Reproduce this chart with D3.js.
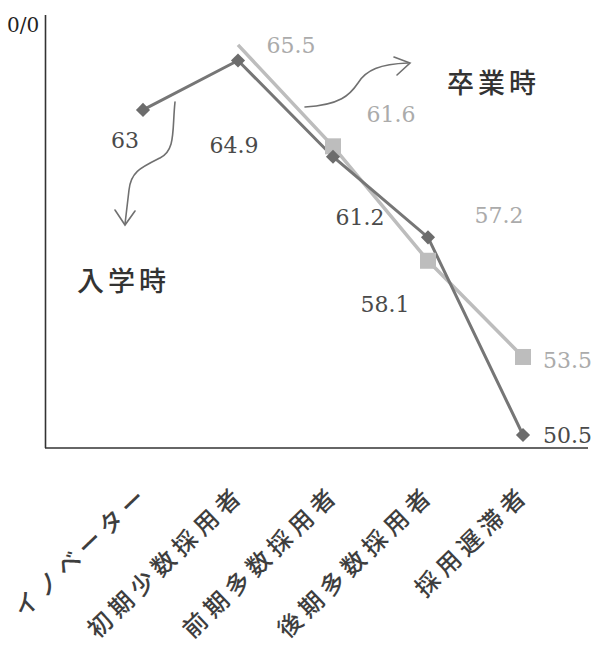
<!DOCTYPE html>
<html>
<head>
<meta charset="utf-8">
<script src="https://cdn.jsdelivr.net/npm/d3@7"></script>
<style>
  body { margin: 0; background: #fff; }
  svg { display: block; }
</style>
</head>
<body>
<script>
var width = 596,
    height = 646

// data
var categories = ["イノベーター", "初期少数採用者", "前期多数採用者", "後期多数採用者", "採用遅滞者"]
var entryValues = [63, 64.9, 61.2, 58.1, 50.5]        // 入学時 (diamonds)
var gradValues = [null, 65.5, 61.6, 57.2, 53.5]       // 卒業時 (squares)
var entryLabels = ["63", "64.9", "61.2", "58.1", "50.5"]
var gradLabels = [null, "65.5", "61.6", "57.2", "53.5"]

var darkColor = "#767676",
    lightColor = "#bdbdbd",
    serif = "'DejaVu Serif', 'Liberation Serif', serif",
    gothic = "'Noto Sans CJK JP', 'Noto Sans', sans-serif"

var svg = d3.select("body").append("svg")
    .attr("width", width)
    .attr("height", height)

var x = d3.scalePoint()
    .domain(categories)
    .range([143, 523])

var y = d3.scaleLinear()
    .domain([50, 66.65])
    .range([448, 15])

// axes (plain lines, no ticks)
svg.append("line")
    .attr("x1", 45.5).attr("x2", 45.5)
    .attr("y1", y.range()[1]).attr("y2", y.range()[0])
    .attr("stroke", "#333").attr("stroke-width", 1.6)
svg.append("line")
    .attr("x1", 45).attr("x2", 588)
    .attr("y1", y.range()[0]).attr("y2", y.range()[0])
    .attr("stroke", "#333").attr("stroke-width", 1.6)

svg.append("text")
    .attr("x", 7).attr("y", 32)
    .style("font-family", serif)
    .style("font-size", "20px")
    .attr("fill", "#222")
    .text("0/0")

// category labels, rotated
svg.append("g")
    .selectAll("text")
    .data(categories)
    .enter().append("text")
    .attr("transform", d => `translate(${x(d) + 8},496) rotate(-44)`)
    .attr("text-anchor", "end")
    .style("font-family", gothic)
    .style("font-size", "24px")
    .style("font-weight", 500)
    .style("letter-spacing", "5.5px")
    .attr("fill", "#3e3e3e")
    .text(d => d)

// series
var gradPts = categories.map((c, i) => ({c: c, v: gradValues[i], label: gradLabels[i]}))
    .filter(d => d.v != null)
var entryPts = categories.map((c, i) => ({c: c, v: entryValues[i], label: entryLabels[i]}))

var line = d3.line()
    .x(d => x(d.c))
    .y(d => y(d.v))

svg.append("path")
    .datum(gradPts)
    .attr("d", line)
    .attr("fill", "none")
    .attr("stroke", lightColor)
    .attr("stroke-width", 3.5)

svg.append("path")
    .datum(entryPts)
    .attr("d", line)
    .attr("fill", "none")
    .attr("stroke", darkColor)
    .attr("stroke-width", 3)

// square markers (no marker at the first point in the original)
svg.append("g")
    .selectAll("rect")
    .data(gradPts.slice(1))
    .enter().append("rect")
    .attr("x", d => x(d.c) - 8)
    .attr("y", d => y(d.v) - 8)
    .attr("width", 16)
    .attr("height", 16)
    .attr("fill", lightColor)

svg.append("g")
    .selectAll("path")
    .data(entryPts)
    .enter().append("path")
    .attr("d", d3.symbol().type(d3.symbolSquare).size(100))
    .attr("transform", d => `translate(${x(d.c)},${y(d.v)}) rotate(45)`)
    .attr("fill", "#6c6c6c")

// value labels: [dx, dy, anchor] relative to the point
var entryOffsets = [[-18, 38, "middle"], [-4, 92, "middle"], [27, 68, "middle"], [-43, 75, "middle"], [20, 8, "start"]]
var gradOffsets = [[53, 8, "middle"], [58, -24, "middle"], [71, -38, "middle"], [20, 11, "start"]]

svg.append("g")
    .selectAll("text")
    .data(entryPts)
    .enter().append("text")
    .attr("x", (d, i) => x(d.c) + entryOffsets[i][0])
    .attr("y", (d, i) => y(d.v) + entryOffsets[i][1])
    .attr("text-anchor", (d, i) => entryOffsets[i][2])
    .style("font-family", serif)
    .style("font-size", "22px")
    .attr("fill", "#4a4a4a")
    .text(d => d.label)

svg.append("g")
    .selectAll("text")
    .data(gradPts)
    .enter().append("text")
    .attr("x", (d, i) => x(d.c) + gradOffsets[i][0])
    .attr("y", (d, i) => y(d.v) + gradOffsets[i][1])
    .attr("text-anchor", (d, i) => gradOffsets[i][2])
    .style("font-family", serif)
    .style("font-size", "22px")
    .attr("fill", "#ababab")
    .text(d => d.label)

// hand-drawn style call-out arrows
var arrows = svg.append("g")
    .attr("fill", "none")
    .attr("stroke", "#707070")
    .attr("stroke-width", 1.6)
    .attr("stroke-linecap", "round")
arrows.append("path")
    .attr("d", "M175,102 C172,130 176,150 160,158 C140,168 131,172 129,190 L125,224")
arrows.append("path")
    .attr("d", "M115,210 L125,225 L135,211")
arrows.append("path")
    .attr("d", "M305,107 C340,105 350,95 358,83 C366,70 380,64 408,63")
arrows.append("path")
    .attr("d", "M394,57 L410,63 L397,75")

svg.append("text")
    .attr("x", 447).attr("y", 93)
    .style("font-family", gothic)
    .style("font-size", "27px")
    .style("font-weight", 500)
    .style("letter-spacing", "4px")
    .attr("fill", "#333")
    .text("卒業時")

svg.append("text")
    .attr("x", 77).attr("y", 291)
    .style("font-family", gothic)
    .style("font-size", "27px")
    .style("font-weight", 500)
    .style("letter-spacing", "4px")
    .attr("fill", "#333")
    .text("入学時")
</script>
</body>
</html>
